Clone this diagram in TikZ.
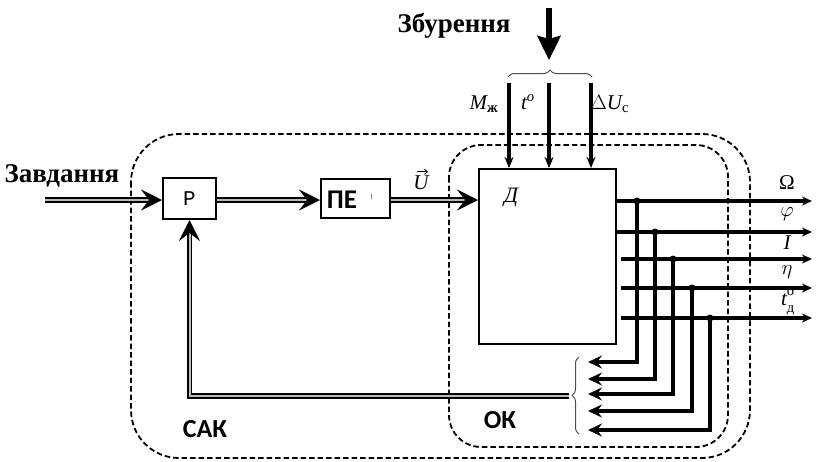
\documentclass[tikz,border=0pt]{standalone}
\usepackage{amsmath}
\usepackage{fontspec}
\setmainfont{Liberation Serif}
\newfontfamily\sansb{Carlito}
\newfontfamily\monof{Liberation Mono}
\usetikzlibrary{arrows.meta,decorations.pathreplacing}
\begin{document}
\begin{tikzpicture}[x=1pt,y=-1pt,
  blk/.style={draw,line width=2pt,inner sep=0pt},
  bound/.style={dashed,dash pattern=on 5.5pt off 3pt,line width=1.8pt},
  dbl/.style={line width=1.8pt,double=gray!55,double distance=2pt,
    -{Stealth[length=21pt,width=21pt,inset=8pt]}},
  outl/.style={line width=3.2pt,-{Stealth[length=10pt,width=9pt]}},
  dropl/.style={line width=3.2pt,-{Stealth[length=14pt,width=13pt,inset=5pt]}},
  disl/.style={line width=3.2pt,-{Stealth[length=11pt,width=9pt]}},
  jdot/.style={circle,fill,inner sep=0pt,minimum size=7pt},
  lab/.style={inner sep=0pt,font=\fontsize{21}{21}\selectfont},
  brc/.style={decorate,decoration={brace,amplitude=7pt},line width=1pt,gray!60!black},
  big/.style={inner sep=0pt,font=\fontsize{27}{27}\selectfont\bfseries},
  grp/.style={inner sep=0pt,font=\fontsize{26}{26}\selectfont\sansb\bfseries},
]
\useasboundingbox (0,0) rectangle (817,461);

% boundaries
\draw[bound,rounded corners=48pt] (131,134) rectangle (750,458);
\draw[bound,rounded corners=32pt] (449,145) rectangle (728,447);

% blocks
\node[blk,minimum width=53pt,minimum height=41pt,font=\fontsize{21}{21}\selectfont\monof] (P) at (189.5,198.5) {Р};
\node[blk,minimum width=69pt,minimum height=39pt] (PE) at (355.5,198.5) {};
\node[inner sep=0pt,font=\fontsize{27}{27}\selectfont\sansb\bfseries] (pet) at (342,200) {ПЕ};
\node[blk,minimum width=137pt,minimum height=175pt] (D) at (547.5,256.5) {};
\node[lab,font=\fontsize{22}{22}\selectfont\itshape] (dl) at (511,198) {Д};
\draw[gray,line width=0.7pt] (371,194) -- (371,199);

% texts
\node[big] (zb) at (454,26) {Збурення};
\node[big] (zd) at (62,176) {Завдання};
\node[grp] (sak) at (205,429) {САК};
\node[grp] (ok) at (500,420) {ОК};
\node[lab,font=\fontsize{21}{21}\selectfont\itshape] (uv) at (421,183) {U};
\draw[line width=0.8pt,-{Straight Barb[length=3pt,width=5pt]}] ([xshift=-4pt,yshift=4pt]uv.north) -- ([xshift=7pt,yshift=4pt]uv.north);
\node[lab] (mz) at (484,104) {$\mathit{M}_{\textbf{ж}}$};
\node[lab] (tt) at (528,102) {$\mathit{t}^{\mathit{o}}$};
\node[lab] (du) at (610,104) {$\Delta\mathit{U}_{\textup{с}}$};
\node[lab] (lo) at (787,183) {Ω};
\node[lab] (lf) at (787,214) {$\varphi$};
\node[lab] (li) at (787,243) {\itshape I};
\node[lab] (le) at (787,272) {$\eta$};
\node[lab] (lt) at (788,302) {$\mathit{t}^{\raisebox{2.5pt}{$\scriptstyle\textup{o}$}}_{\raisebox{-1.5pt}{$\scriptstyle\textup{д}$}}$};

% input chain
\coordinate (inA) at (45,200);
\draw[dbl] (inA) -- (inA -| P.west);
\draw[dbl] (P.east |- 0,200) -- (PE.west |- 0,200);
\draw[dbl] (PE.east |- 0,200) -- (D.west |- 0,200);

% disturbance
\coordinate (bz1) at (549,8);
\coordinate (bz2) at (549,60);
\draw[line width=6pt,-{Stealth[length=24pt,width=23pt,inset=3pt]}] (bz1) -- (bz2);
\draw[brc] (508,77) -- (592,77);
\coordinate (m1) at (509,83);
\coordinate (m2) at (549,83);
\coordinate (m3) at (591,83);
\draw[disl] (m1) -- (m1 |- D.north);
\draw[disl] (m2) -- (m2 |- D.north);
\draw[disl,line width=4pt] (m3) -- (m3 |- D.north);

% outputs
\coordinate (e1) at (812,201);
\coordinate (e2) at (812,232);
\coordinate (e3) at (812,259);
\coordinate (e4) at (812,288);
\coordinate (e5) at (812,318);
\coordinate (s3) at (621,259);
\coordinate (s4) at (621,288);
\coordinate (s5) at (621,318);
\draw[outl] (D.east |- e1) -- (e1);
\draw[outl] (D.east |- e2) -- (e2);
\draw[outl] (s3) -- (e3);
\draw[outl] (s4) -- (e4);
\draw[outl] (s5) -- (e5);

% junctions and feedback drops
\node[jdot] (j1) at (637,201) {};
\node[jdot] (j2) at (655,232) {};
\node[jdot] (j3) at (673,259) {};
\node[jdot] (j4) at (692,288) {};
\node[jdot] (j5) at (710,318) {};
\coordinate (f1) at (588,362);
\coordinate (f2) at (588,379);
\coordinate (f3) at (588,394);
\coordinate (f4) at (588,411);
\coordinate (f5) at (588,430);
\draw[dropl,line width=4.8pt] (j1.center) |- (f1);
\draw[dropl] (j2.center) |- (f2);
\draw[dropl] (j3.center) |- (f3);
\draw[dropl] (j4.center) |- (f4);
\draw[dropl] (j5.center) |- (f5);

% feedback brace and return path
\draw[brc] (579,434) -- (579,357);
\coordinate (fbs) at (569,396);
\draw[dbl] (fbs) -| (P.south);
\end{tikzpicture}
\end{document}
